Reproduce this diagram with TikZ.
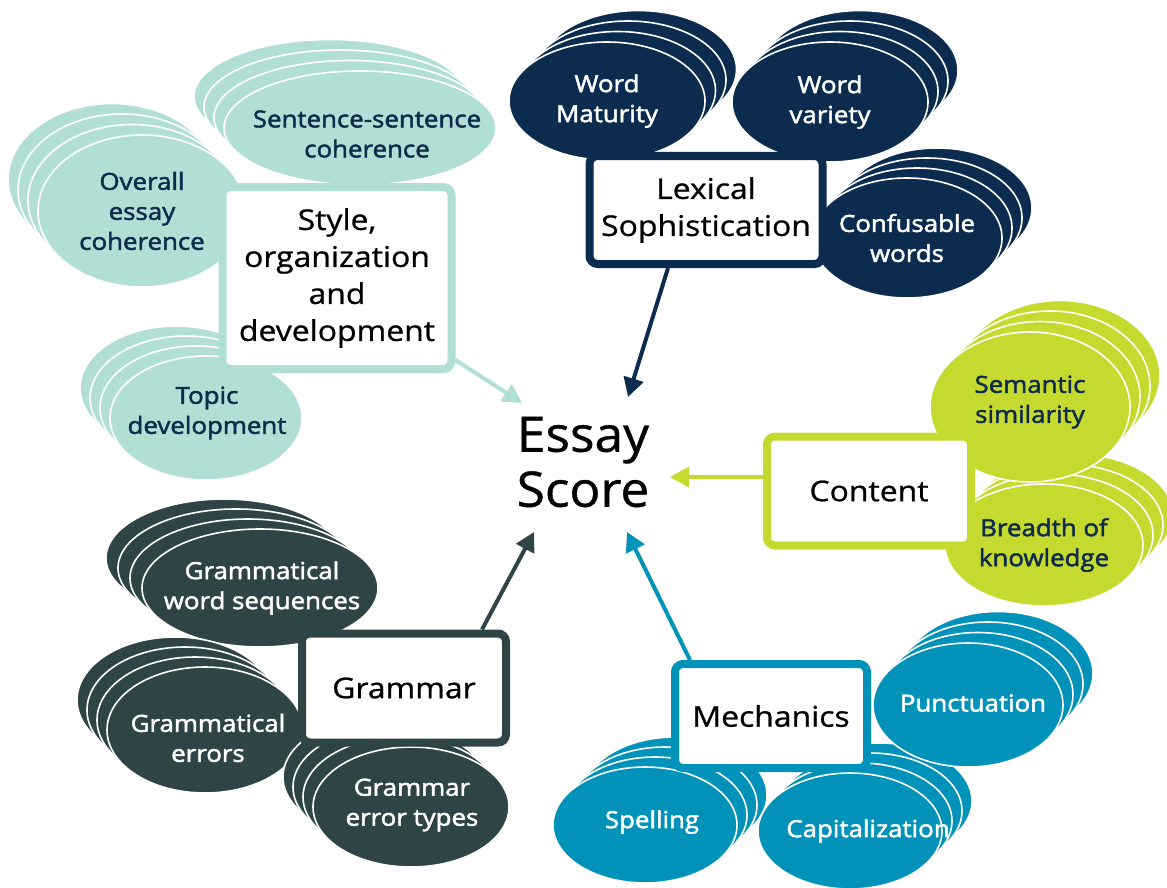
\documentclass[tikz,border=0pt]{standalone}
\usepackage{fontspec}
\setmainfont{Open Sans}
\newfontfamily\leafface[FakeBold=2,FakeStretch=1.1]{Open Sans}
\newfontfamily\boxface[FakeBold=0.8,FakeStretch=1.12]{Open Sans}
\newfontfamily\scoreface[FakeBold=0.8,FakeStretch=1.05]{Open Sans}
\usetikzlibrary{shapes.geometric,arrows.meta,calc}

\definecolor{stylecol}{HTML}{B1DFD6}
\definecolor{lexcol}{HTML}{0B2C4F}
\definecolor{contcol}{HTML}{C6D92E}
\definecolor{gramcol}{HTML}{2F4446}
\definecolor{mechcol}{HTML}{0092B8}
\definecolor{navytext}{HTML}{0D2B4A}

\tikzset{
  leaf/.style={ellipse, draw=white, line width=1.6pt, inner sep=0pt},
  leaftext/.style={align=center, inner sep=0pt,
    font=\leafface\fontsize{23.5}{30}\selectfont},
  styleleaf/.style={leaf, fill=stylecol},
  lexleaf/.style={leaf, fill=lexcol},
  contleaf/.style={leaf, fill=contcol},
  gramleaf/.style={leaf, fill=gramcol},
  mechleaf/.style={leaf, fill=mechcol},
  catbox/.style={draw=#1, fill=white, line width=8pt, rounded corners=8pt,
    align=center, inner sep=0pt, font=\boxface\fontsize{28.5}{37}\selectfont},
  arr/.style={draw=#1, line width=4pt,
    -{Triangle[length=19pt,width=20pt]}},
}

% a stack of four ellipses: three outlined copies behind the labelled one
% #1 name, #2 centre, #3 width, #4 height, #5 step between copies,
% #6 style, #7 text colour, #8 label; the label is moved by \leafshift
\newcommand\leafstack[8]{%
  \foreach \k in {3,2,1}{%
    \node[#6, minimum width=#3, minimum height=#4] (#1-\k) at ($(#2)+\k*(#5)$) {};
  }
  \node[#6, minimum width=#3, minimum height=#4] (#1) at (#2) {};
  \node[leaftext, text=#7] (#1-label) at ($(#1)+(\leafshift)$) {#8};
}
\def\leafshift{0,0}

\begin{document}
\begin{tikzpicture}[x=1pt,y=-1pt]
\useasboundingbox (0,0) rectangle (1167,888);

% ---- Style, organization and development ----
\def\leafshift{0,0}
\leafstack{overall}{142,211}{208pt}{152pt}{-10,-10.5}{styleleaf}{navytext}{Overall\\essay\\coherence}
\def\leafshift{7,6}
\leafstack{sentence}{360,128}{272pt}{114pt}{-10,-10.5}{styleleaf}{navytext}{Sentence-sentence\\coherence}
\def\leafshift{1,-5}
\leafstack{topic}{206,418}{192pt}{124pt}{-10,-10}{styleleaf}{navytext}{Topic\\development}

% ---- Lexical Sophistication ----
\def\leafshift{0,0}
\leafstack{confusable}{907,238}{190pt}{120pt}{10,-10}{lexleaf}{white}{Confusable\\words}
\leafstack{variety}{830,102}{196pt}{120pt}{10,-10.5}{lexleaf}{white}{Word\\variety}
\leafstack{maturity}{607,101}{196pt}{118pt}{10.5,-10.5}{lexleaf}{white}{Word\\Maturity}

% ---- Content ----
\leafstack{breadth}{1044,545}{198pt}{122pt}{10,-10}{contleaf}{navytext}{Breadth of\\knowledge}
\def\leafshift{0,-5}
\leafstack{semantic}{1030,407}{200pt}{150pt}{10,-10.5}{contleaf}{navytext}{Semantic\\similarity}

% ---- Grammar ----
\def\leafshift{2,0}
\leafstack{wordseq}{260,588}{236pt}{118pt}{-12,-10}{gramleaf}{white}{Grammatical\\word sequences}
\def\leafshift{3,8}
\leafstack{gramerr}{205,730}{196pt}{126pt}{-10,-10}{gramleaf}{white}{Grammatical\\errors}
\def\leafshift{1,-2}
\leafstack{errtypes}{411,807}{196pt}{120pt}{-10,-10}{gramleaf}{white}{Grammar\\error types}

% ---- Mechanics ----
\def\leafshift{7,-3}
\leafstack{spelling}{645,825}{184pt}{116pt}{10,-10}{mechleaf}{white}{Spelling}
\def\leafshift{18,0}
\leafstack{capital}{850,831}{184pt}{116pt}{10,-10}{mechleaf}{white}{Capitalization}
\def\leafshift{5,-2}
\leafstack{punct}{968,705}{190pt}{124pt}{10,-10.5}{mechleaf}{white}{Punctuation}

% ---- category boxes ----
\node[catbox=stylecol, minimum width=229pt, minimum height=182pt] (style) at (337,278)
  {Style,\\organization\\and\\development};
\node[catbox=lexcol, minimum width=233pt, minimum height=108pt] (lexical) at (706,210)
  {Lexical\\Sophistication};
\node[catbox=contcol, minimum width=204pt, minimum height=109pt] (content) at (869,491)
  {Content};
\node[catbox=gramcol, minimum width=204pt, minimum height=109pt] (grammar) at (404,688)
  {Grammar};
\node[catbox=mechcol, minimum width=192pt, minimum height=104pt] (mechanics) at (771,716)
  {Mechanics};

% ---- centre ----
\node[align=center, inner sep=0pt, font=\scoreface\fontsize{49}{55}\selectfont] (score) at (583,462)
  {Essay\\Score};

% arrow tips around the centre
\coordinate (tipstyle) at (522,403);
\coordinate (tiplex) at (628,397);
\coordinate (tipcont) at (670,477);
\coordinate (tipgram) at (534,532);
\coordinate (tipmech) at (627,532);

\draw[arr=stylecol] ($(style.east)+(0,82)$) -- (tipstyle);
\draw[arr=lexcol] ($(lexical.south)+(-38,0)$) -- (tiplex);
\draw[arr=contcol] ($(content.west)+(0,-14)$) -- (tipcont);
\draw[arr=gramcol] ($(grammar.north)+(78,0)$) -- (tipgram);
\draw[arr=mechcol] ($(mechanics.north)+(-81,0)$) -- (tipmech);
\end{tikzpicture}
\end{document}
